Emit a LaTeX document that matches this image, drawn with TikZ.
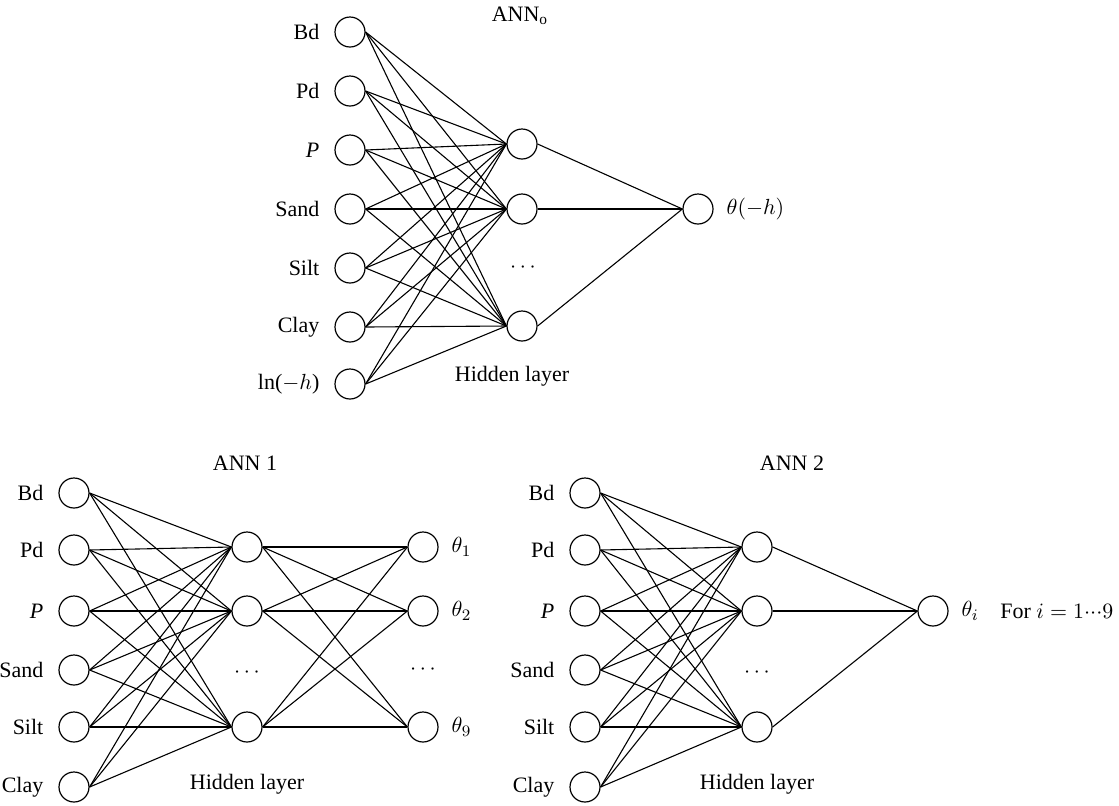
\documentclass[tikz,border=0pt]{standalone}
\usepackage{fontspec}
\setmainfont{Liberation Serif}
\begin{document}
\begin{tikzpicture}[x=0.5pt,y=-0.5pt,
  neuron/.style={circle,draw,line width=0.6pt,minimum size=15pt,inner sep=0pt},
  lab/.style={font=\fontsize{11}{13}\selectfont},
  inlab/.style={lab,anchor=east,xshift=-4pt},
  outlab/.style={lab,anchor=west,xshift=3pt},
  conn/.style={line width=0.55pt}]
\useasboundingbox (0,0) rectangle (1119,805);
% ---------- top network ANN_o ----------
\foreach \n/\y/\t in {1/32/Bd,2/91/Pd,3/150/\textit{P},4/209/Sand,5/268/Silt,6/327/Clay,7/384/ln($-h$)}{
  \node[neuron] (a\n) at (350,\y) {};
  \node[inlab] at (a\n.west) {\t};
}
\foreach \n/\y in {1/144,2/209,3/326}{ \node[neuron] (ah\n) at (522,\y) {}; }
\node[neuron] (ao) at (698,209) {};
\node[outlab] at (ao.east) {$\theta(-h)$};
\node[lab] (tdots) at (523,268) {$\cdots$};
\node[lab] (ttitle) at (520,16) {ANN\textsubscript{o}};
\node[lab] (thid) at (512,376) {Hidden layer};
\foreach \i in {1,...,7}{\foreach \j in {1,2,3}{\draw[conn] (a\i.east) -- (ah\j.west);}}
\foreach \j in {1,2,3}{\draw[conn] (ah\j.east) -- (ao.west);}
% ---------- ANN 1 ----------
\foreach \n/\y/\t in {1/493/Bd,2/550/Pd,3/611/\textit{P},4/670/Sand,5/727/Silt,6/787/Clay}{
  \node[neuron] (b\n) at (74,\y) {};
  \node[inlab] at (b\n.west) {\t};
  \node[neuron] (c\n) at (585,\y) {};
  \node[inlab] at (c\n.west) {\t};
}
\foreach \n/\y in {1/547,2/611,3/727}{
  \node[neuron] (bh\n) at (247,\y) {};
  \node[neuron] (ch\n) at (757,\y) {};
}
\foreach \n/\y/\t in {1/547/$\theta_1$,2/611/$\theta_2$,3/727/$\theta_9$}{
  \node[neuron] (bo\n) at (423,\y) {};
  \node[outlab] at (bo\n.east) {\t};
}
\node[lab] (bdots1) at (247,673) {$\cdots$};
\node[lab] (bdots2) at (423,670) {$\cdots$};
\node[lab] (btitle) at (245,463) {ANN 1};
\node[lab] (bhid) at (247,784) {Hidden layer};
\foreach \i in {1,...,6}{\foreach \j in {1,2,3}{\draw[conn] (b\i.east) -- (bh\j.west);}}
\foreach \i in {1,2,3}{\foreach \j in {1,2,3}{\draw[conn] (bh\i.east) -- (bo\j.west);}}
% ---------- ANN 2 ----------
\node[neuron] (co) at (933,611) {};
\node[outlab] (thi) at (co.east) {$\theta_i$};
\node[lab,anchor=west,inner sep=0pt] (fori) at (1000,611) {For $i\;{=}\;1{\cdot}{\cdot}{\cdot}9$};
\node[lab] (cdots) at (757,673) {$\cdots$};
\node[lab] (ctitle) at (792,463) {ANN 2};
\node[lab] (chid) at (757,784) {Hidden layer};
\foreach \i in {1,...,6}{\foreach \j in {1,2,3}{\draw[conn] (c\i.east) -- (ch\j.west);}}
\foreach \j in {1,2,3}{\draw[conn] (ch\j.east) -- (co.west);}
\end{tikzpicture}
\end{document}
